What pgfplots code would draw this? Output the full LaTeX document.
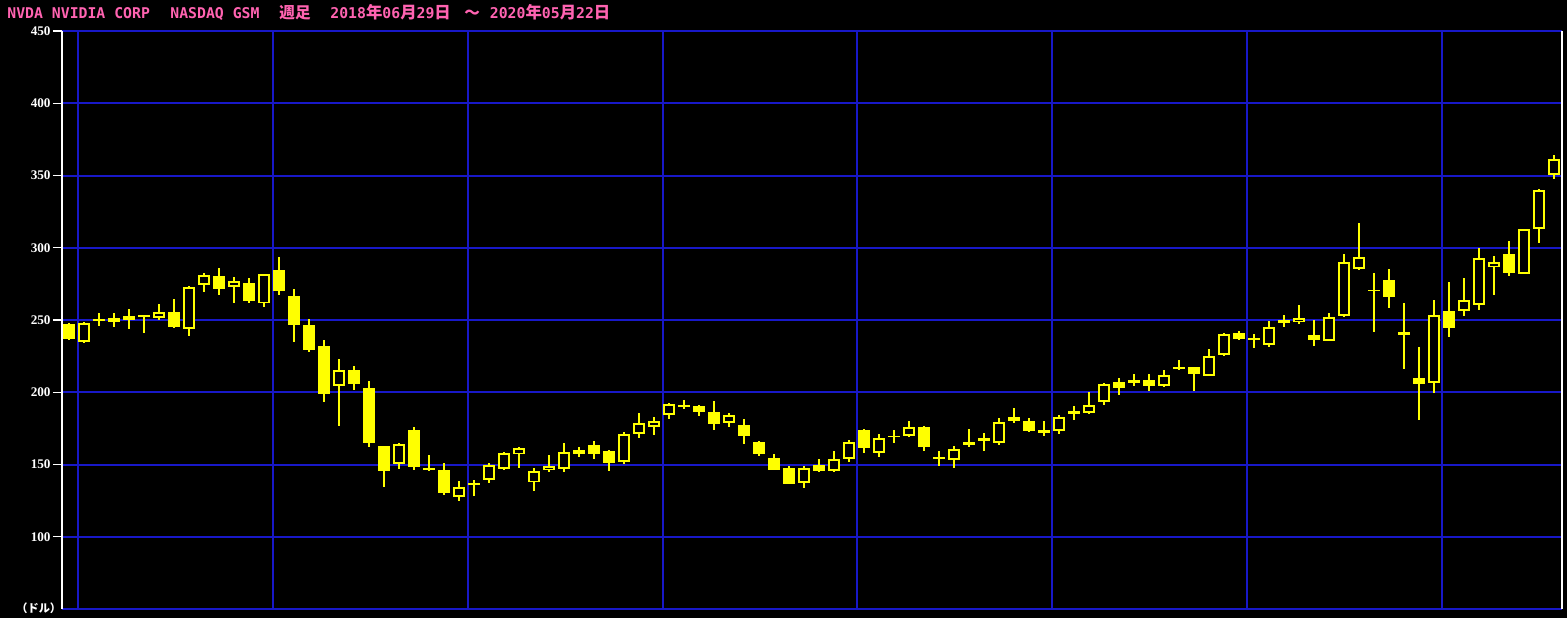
\documentclass[border=0pt]{standalone}
\usepackage{pgfplots}
\usepackage{pgfplotstable}
\pgfplotsset{compat=1.18}
\usepackage{fontspec}
\newfontfamily\titlefont{DejaVu Sans Mono}
\newfontfamily\cjk{Noto Sans CJK JP}
\newfontfamily\tickfont{Liberation Serif}
\definecolor{candle}{RGB}{255,255,0}
\definecolor{gridblue}{RGB}{24,24,200}
\definecolor{titlepink}{RGB}{255,99,177}

% weekly candles: x = week index (0 = 2018-06-29), o h l c
\pgfplotstableread{
x o h l c
0 247.2 248 236 236.9
5 253.2 253.5 241.2 252.1
7 255.5 264.3 244.3 245.4
10 280.4 285.7 267.3 271.6
12 275.4 278.8 262 263.4
14 284.6 293.8 267.3 270.3
15 266.6 271.2 235 246.8
16 246.5 250.7 228.1 229.5
17 232 236.2 193.5 199
19 215.2 218.2 201.6 206
20 203 207.6 162.4 165.1
21 162.6 162.8 134.2 145.8
23 173.9 175.8 146.3 148.5
24 147.6 156.6 145.8 146.3
25 146.3 150.9 129 130.6
27 136.9 139 128 135.9
35 163.3 166.2 154.1 157
36 159.4 160.1 145.8 151.3
41 191.2 194.7 188.2 190
42 190.5 191.2 183.9 186.6
43 186.1 194.2 173.9 178.2
45 177.1 181.5 164.5 169.9
46 165.6 166.5 156.1 157.5
47 154.5 157.2 146.4 146.4
48 147.5 148.7 136.7 136.7
50 149.5 153.7 144.5 145.6
53 174 174.6 158.2 161.1
57 176 176.7 159.6 161.8
58 155.3 159.5 149.1 154.1
60 165.3 174.6 162.4 163.4
64 180.2 182.1 172.6 173.5
65 174 180.2 169.8 171.9
70 207.1 209.6 198.1 203.2
72 208.5 212.7 201.2 204.4
75 217.3 217.7 201.2 212.9
78 241 242.4 236.2 237.1
83 239.4 250 232.2 236.4
88 277.7 285 258.5 266.1
90 209.7 231.6 180.9 206
92 256 276.1 238.5 244.3
96 295.6 304.8 280.4 282.7
}\downtab

\pgfplotstableread{
x o h l c
1 234.8 248.6 234 247.9
2 249.5 254.8 245.9 250.7
3 248.8 254.6 245.4 251.2
4 250.2 257.4 243.6 252.6
6 251.6 261 250 255.3
8 243.6 273.5 238.9 272.6
9 274 282.7 269.6 280.9
11 273 279.6 262 276.8
13 261.5 282 259.2 281.6
18 204.1 223 176.9 215.2
22 150.6 165.1 147.1 164
26 127.3 138.8 124.8 134.2
28 139.3 151.3 137.5 149.9
29 147.2 159 146.3 157.8
30 157 162.4 147.9 161.4
31 137.6 147.5 132 145.4
32 146 156.6 145 148.8
33 147.2 164.7 145.1 158.5
34 157.6 162 155.5 159.9
37 152 172.3 150.6 170.9
38 171 185.5 168.2 178.4
39 175.8 182.7 170.7 180.2
40 184.1 192.8 181.3 191.9
44 178.9 185.8 176.1 184.2
49 137.4 148.7 134 147.5
51 145.6 159.3 144.9 153.5
52 154.1 167 152 165.6
54 158.2 171.2 155.5 168.4
55 169.1 174 165.2 170
56 170 180.2 169.1 175.8
59 153 162.9 147.9 160.8
61 166.5 171.7 159.6 168.4
62 165.2 182.1 163.6 179.5
63 180.2 189 178.6 182.7
66 173.5 184 171 182.7
67 185.2 190.5 180.9 187.1
68 185.9 200.2 185 191
69 193.5 206.6 191.4 205.5
71 206.6 212.7 204.4 208.5
73 204.4 215.4 203.5 211.7
74 216.3 222.3 215.4 217.3
76 211.5 229.9 211.5 224.9
77 226 241.2 225.1 240.1
79 236.8 240.5 230.3 237
80 233 249.3 231.5 245
81 248.2 253.5 245 250
82 248.4 260.4 247 251.2
84 235.7 254.6 235.7 251.9
85 253 295.6 252.3 289.9
86 285.2 316.9 284.6 293.8
87 270.3 282.3 241.9 270.7
89 239.8 261.5 216.3 241.5
91 206.6 263.8 199.2 253.2
93 256 279 253 263.6
94 260.5 299.8 257 292.6
95 286.9 294.3 267.5 289.9
97 281.6 312.9 281.6 312.9
98 312.8 340.7 303.6 339.8
99 350.2 364.2 347.4 361.3
}\uptab

\begin{document}
\begin{tikzpicture}
\fill[black] (0,0) rectangle (783.5pt,309pt);
\useasboundingbox (0,0) rectangle (783.5pt,309pt);
\begin{axis}[
  at={(31pt,4.5pt)}, anchor=south west,
  scale only axis, width=750pt, height=289pt,
  xmin=-0.4667, xmax=99.533, ymin=50, ymax=450,
  axis background/.style={fill=black},
  separate axis lines,
  x axis line style={draw=gridblue, line width=1pt},
  y axis line style={draw=white, line width=0.7pt},
  xtick={0.6,13.6,26.6,39.6,52.53,65.53,78.53,91.53},
  xticklabels={},
  xtick style={draw=none},
  ytick={100,150,...,450},
  ytick pos=left,
  xmajorgrids, ymajorgrids,
  grid style={draw=gridblue, line width=1pt},
  major tick length=4.5pt, tick align=outside,
  ytick style={draw=white, line width=0.7pt},
  /pgf/number format/assume math mode=true,
  yticklabel style={font=\tickfont\bfseries\fontsize{6.6}{7}\selectfont, text=white, inner sep=1pt},
  clip=true,
]
% wicks
\addplot[draw=none, mark=none, forget plot,
  error bars/.cd, y dir=both, y explicit, error mark=none,
  error bar style={draw=candle, line width=0.65pt}]
  table[x=x, y expr={(\thisrow{h}+\thisrow{l})/2}, y error expr={(\thisrow{h}-\thisrow{l})/2}] {\downtab};
\addplot[draw=none, mark=none, forget plot,
  error bars/.cd, y dir=both, y explicit, error mark=none,
  error bar style={draw=candle, line width=0.65pt}]
  table[x=x, y expr={(\thisrow{h}+\thisrow{l})/2}, y error expr={(\thisrow{h}-\thisrow{l})/2}] {\uptab};
% filled (down) bodies
\addplot[draw=none, mark=none, forget plot,
  error bars/.cd, y dir=both, y explicit, error mark=none,
  error bar style={draw=candle, line width=6.3pt}]
  table[x=x, y expr={(\thisrow{o}+\thisrow{c})/2}, y error expr={max(abs(\thisrow{o}-\thisrow{c})/2,0.5)}] {\downtab};
% hollow (up) bodies: outline then black inside
\addplot[draw=none, mark=none, forget plot,
  error bars/.cd, y dir=both, y explicit, error mark=none,
  error bar style={draw=candle, line width=6.3pt}]
  table[x=x, y expr={(\thisrow{o}+\thisrow{c})/2}, y error expr={max(abs(\thisrow{o}-\thisrow{c})/2,0.5)}] {\uptab};
\addplot[draw=none, mark=none, forget plot,
  error bars/.cd, y dir=both, y explicit, error mark=none,
  error bar style={draw=black, line width=4.4pt}]
  table[x=x, y expr={(\thisrow{o}+\thisrow{c})/2}, y error expr={max(abs(\thisrow{o}-\thisrow{c})/2-1.3,0)}] {\uptab};
\end{axis}
% title
\begin{scope}[every node/.style={inner sep=0pt, anchor=base west, text=titlepink}]
\node at (3.5pt,300pt) {\titlefont\bfseries\fontsize{7.4}{8}\selectfont NVDA NVIDIA CORP};
\node at (85pt,300pt) {\titlefont\bfseries\fontsize{7.4}{8}\selectfont NASDAQ GSM};
\node at (139.5pt,300pt) {\cjk\bfseries\fontsize{7.8}{8}\selectfont 週足};
\node at (165pt,300pt) {\titlefont\bfseries\fontsize{7.4}{8}\selectfont 2018{\cjk\fontsize{8.2}{8}\selectfont 年}06{\cjk\fontsize{8.2}{8}\selectfont 月}29{\cjk\fontsize{8.2}{8}\selectfont 日}};
\node at (232pt,300pt) {\cjk\bfseries\fontsize{7.8}{8}\selectfont 〜};
\node at (244.75pt,300pt) {\titlefont\bfseries\fontsize{7.4}{8}\selectfont 2020{\cjk\fontsize{8.2}{8}\selectfont 年}05{\cjk\fontsize{8.2}{8}\selectfont 月}22{\cjk\fontsize{8.2}{8}\selectfont 日}};
\end{scope}
\node[inner sep=0pt, anchor=west, text=white] at (8pt,5pt) {\cjk\bfseries\fontsize{5.6}{6}\selectfont （ドル）};
\end{tikzpicture}
\end{document}
